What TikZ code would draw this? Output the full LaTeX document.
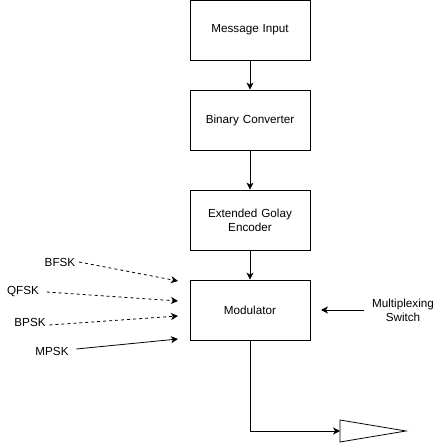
\documentclass[tikz,border=0pt]{standalone}
\usepackage{fontspec}
\setmainfont{Liberation Sans}
\usetikzlibrary{arrows.meta}
\usetikzlibrary{calc}
\usetikzlibrary{positioning}

\begin{document}
\begin{tikzpicture}[
    x=1pt, y=-1pt,
    line width=0.8pt,
    font=\fontsize{11.7}{13.8}\selectfont,
    block/.style={draw, minimum width=120pt, minimum height=60pt,
      align=center, text width=110pt},
    flow/.style={-{Stealth[length=7pt, width=7pt, inset=2pt]}},
    dashflow/.style={flow, dash pattern=on 3pt off 3pt}]

    \useasboundingbox (0, 0) rectangle (445, 444);

    % the chain of blocks
    \node [block] (input) at (250, 30) {Message Input};
    \node [block] (binary) at (250, 120) {Binary Converter};
    \node [block] (golay) at (250, 220) {Extended Golay\\Encoder};
    \node [block] (modulator) at (250, 310) {Modulator};

    \draw [flow] (input) -- (binary);
    \draw [flow] (binary) -- (golay);
    \draw [flow] (golay) -- (modulator);

    % schemes into the modulator
    \node (bfsk) at (60, 262) {BFSK};
    \node (qfsk) at (23, 292) {QFSK};
    \node (bpsk) at (30, 322) {BPSK};
    \node (mpsk) at (52, 351) {MPSK};

    \coordinate (inbfsk) at (178, 281);
    \coordinate (inqfsk) at (178, 301);
    \coordinate (inbpsk) at (178, 316);
    \coordinate (inmpsk) at (178, 339);

    \draw [dashflow] (bfsk.east) -- (inbfsk);
    \draw [dashflow] (qfsk.east) ++(4, 0) -- (inqfsk);
    \draw [dashflow] ($(bpsk.east) + (0, 3)$) -- (inbpsk);
    \draw [flow] ($(mpsk.east) + (4, -2)$) -- (inmpsk);

    % switch
    \node [align=center] (switch) at (403, 310) {Multiplexing\\Switch};
    \coordinate (inswitch) at (321, 310);
    \draw [flow] ([xshift=-4]switch.west |- inswitch) -- (inswitch);

    % output
    \coordinate (corner) at (250, 431);
    \coordinate (amp) at (340, 431);
    \draw [flow] (modulator.south) -- (corner) -- (amp);
    \draw (amp) -- (340, 420) -- (406, 431) -- (340, 442) -- cycle;

  \end{tikzpicture}
\end{document}
